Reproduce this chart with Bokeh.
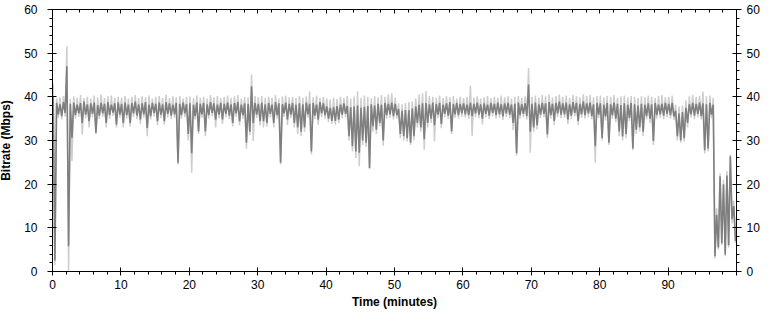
from bokeh.plotting import figure
from bokeh.models import LinearAxis, FixedTicker, Range1d
from bokeh.embed import file_html
from bokeh.resources import INLINE

# ---- data: per 0.5-minute bin (bin i starts at 0.5*i minutes) ----
bin_width = 0.5

dark_hi = [
    40.0, 38.6, 38.3, 38.8, 47.0, 38.4, 38.7, 38.2, 38.6, 38.9, 38.3, 38.5, 38.7, 38.1, 38.6, 38.4, 38.8, 38.2, 38.5, 38.7,
    38.4, 38.7, 38.2, 38.6, 38.9, 38.3, 38.5, 38.8, 38.2, 38.6, 38.4, 38.7, 38.3, 38.8, 38.5, 38.2, 38.6, 38.4, 38.7, 38.3,
    38.5, 38.2, 38.7, 38.4, 38.6, 38.3, 38.8, 38.5, 38.2, 38.6, 38.4, 38.7, 38.3, 38.6, 38.8, 38.2, 38.5, 38.4, 42.4, 38.6,
    38.4, 38.7, 38.3, 38.6, 38.2, 38.8, 38.5, 38.3, 38.7, 38.4, 38.6, 38.2, 38.5, 38.3, 38.7, 38.4, 38.6, 38.2, 38.8, 38.5,
    37.8, 37.5, 37.6, 37.9, 38.2, 38.5, 37.9, 37.6, 37.8, 38.0, 37.5, 37.7, 37.9, 38.3, 38.0, 38.4, 38.2, 38.6, 38.4, 38.7,
    38.4, 37.2, 36.8, 37.0, 36.9, 37.3, 37.8, 38.2, 38.5, 38.6, 38.3, 38.7, 38.4, 38.6, 38.2, 38.5, 38.8, 38.3, 38.6, 38.4,
    38.5, 38.2, 38.6, 38.4, 38.7, 38.3, 38.5, 38.2, 38.6, 38.4, 38.7, 38.3, 38.5, 38.6, 38.2, 38.4, 38.7, 38.3, 38.5, 42.8,
    38.4, 38.7, 38.3, 38.6, 38.5, 38.8, 38.4, 38.6, 38.9, 38.5, 38.7, 38.3, 38.8, 38.6, 38.4, 38.9, 38.5, 38.7, 38.3, 38.6,
    38.5, 38.2, 38.6, 38.3, 38.7, 38.4, 38.1, 38.5, 38.2, 38.6, 38.3, 38.0, 38.4, 38.2, 38.5, 38.3, 38.6, 38.2, 38.4, 38.6,
    38.4, 38.6, 36.8, 36.2, 36.5, 37.5, 38.3, 38.6, 38.4, 38.7, 38.5, 38.3, 38.6, 38.2, 13.0, 21.8, 20.0, 22.0, 26.4, 15.0,
]
dark_lo = [
    2.5, 36.0, 35.6, 36.3, 5.8, 30.6, 35.8, 36.2, 34.0, 35.9, 34.4, 36.1, 31.8, 35.7, 36.2, 34.0, 35.8, 36.4, 33.6, 35.9,
    34.0, 35.8, 34.0, 36.2, 35.7, 34.8, 36.0, 32.9, 35.6, 36.3, 34.4, 35.9, 34.4, 36.1, 35.7, 36.0, 24.9, 35.8, 36.2, 31.5,
    27.1, 35.6, 32.1, 36.0, 32.1, 35.8, 36.3, 34.8, 35.9, 34.8, 36.1, 35.7, 34.0, 36.2, 34.4, 35.8, 29.5, 32.0, 34.0, 35.9,
    34.4, 34.4, 34.0, 36.1, 34.0, 35.8, 24.9, 36.2, 34.8, 35.9, 34.0, 33.0, 32.0, 33.0, 36.0, 27.5, 35.7, 34.8, 36.2, 35.8,
    35.0, 34.5, 34.5, 34.8, 35.9, 36.1, 31.0, 28.7, 27.5, 27.2, 30.0, 29.5, 23.7, 33.3, 32.5, 34.0, 30.0, 35.8, 36.0, 35.6,
    35.8, 31.5, 31.0, 30.5, 29.5, 31.0, 34.0, 33.0, 30.3, 34.0, 35.0, 33.5, 35.9, 33.8, 36.1, 35.7, 32.1, 36.0, 35.8, 36.2,
    36.0, 35.8, 35.6, 36.2, 35.9, 35.0, 36.1, 35.7, 36.3, 35.8, 36.0, 35.5, 36.2, 35.9, 34.0, 27.1, 35.8, 36.1, 35.6, 32.0,
    33.0, 33.5, 35.9, 36.1, 31.4, 35.8, 34.5, 36.2, 35.9, 36.0, 34.8, 35.7, 36.3, 34.5, 36.0, 35.8, 36.2, 35.6, 28.7, 35.9,
    30.6, 35.5, 29.5, 35.8, 35.0, 32.1, 30.9, 31.5, 35.2, 28.2, 32.5, 33.0, 32.0, 35.6, 35.0, 29.9, 35.8, 36.0, 35.7, 36.1,
    35.8, 35.5, 31.0, 30.0, 30.5, 34.0, 36.0, 35.7, 36.1, 35.6, 27.8, 28.2, 35.9, 3.5, 5.5, 6.5, 3.9, 6.0, 12.0, 7.0,
]
light_hi = [
    43.0, 39.6, 39.9, 40.2, 51.6, 39.5, 40.1, 39.8, 40.4, 39.7, 40.0, 39.6, 40.3, 39.9, 40.5, 39.7, 40.1, 40.3, 39.8, 40.0,
    39.8, 40.2, 39.6, 40.0, 40.4, 39.7, 40.1, 39.9, 40.3, 39.6, 40.0, 40.2, 39.8, 40.5, 39.7, 40.1, 39.9, 40.2, 39.6, 40.0,
    40.1, 39.7, 40.3, 39.8, 40.0, 39.6, 40.4, 39.9, 40.2, 39.7, 40.0, 40.3, 39.8, 40.1, 40.4, 39.6, 40.0, 39.9, 45.1, 40.2,
    39.9, 40.2, 39.7, 40.0, 39.8, 40.4, 39.6, 40.1, 40.3, 39.9, 40.0, 39.7, 40.2, 39.8, 40.1, 41.2, 39.9, 40.3, 39.7, 40.0,
    39.6, 39.4, 39.8, 39.5, 40.0, 39.7, 40.2, 39.6, 40.1, 41.3, 39.8, 40.3, 40.0, 39.7, 40.2, 39.9, 40.4, 40.0, 40.6, 40.8,
    39.8, 38.5, 38.3, 38.6, 38.8, 39.0, 39.6, 40.5, 40.8, 41.3, 40.2, 40.0, 39.8, 40.3, 39.7, 40.1, 39.9, 40.2, 39.6, 40.0,
    39.7, 40.0, 42.6, 39.8, 40.1, 39.6, 39.9, 40.2, 39.7, 40.0, 39.8, 40.3, 39.9, 40.1, 39.6, 40.0, 40.2, 39.8, 40.1, 46.6,
    40.0, 40.3, 39.8, 40.4, 40.1, 40.6, 39.9, 40.2, 40.5, 40.0, 40.3, 39.8, 40.4, 40.1, 39.9, 40.6, 40.2, 40.4, 39.9, 40.2,
    40.3, 39.9, 40.2, 40.0, 40.4, 39.8, 40.1, 40.3, 39.9, 40.2, 40.0, 39.7, 40.1, 39.9, 40.3, 40.0, 39.8, 40.2, 40.4, 39.9,
    40.0, 40.3, 38.2, 37.8, 38.0, 39.2, 40.1, 40.4, 40.0, 40.2, 41.2, 40.1, 40.3, 39.8, 14.5, 22.5, 21.0, 23.0, 26.8, 16.2,
]
light_lo = [
    1.5, 35.2, 34.8, 35.5, 0.2, 25.3, 35.0, 35.4, 31.4, 35.1, 33.0, 35.3, 31.5, 34.9, 35.4, 33.0, 35.0, 35.6, 33.0, 35.2,
    33.0, 35.0, 33.2, 35.4, 34.9, 33.8, 35.2, 31.0, 34.8, 35.5, 33.5, 35.1, 33.6, 35.3, 34.9, 35.2, 24.5, 35.0, 35.4, 30.0,
    22.6, 34.8, 31.5, 35.2, 31.0, 35.0, 35.5, 33.0, 35.1, 33.8, 35.3, 34.9, 33.2, 35.4, 33.5, 35.0, 28.1, 31.2, 29.9, 35.1,
    33.4, 33.0, 33.2, 35.3, 33.0, 35.0, 24.5, 35.4, 33.5, 35.1, 33.0, 31.5, 31.0, 32.0, 35.2, 26.8, 34.9, 33.6, 35.4, 35.0,
    34.2, 33.8, 33.6, 34.0, 35.1, 35.3, 30.0, 27.5, 26.0, 24.1, 29.0, 28.5, 23.5, 32.0, 31.5, 33.2, 28.8, 35.0, 35.2, 34.8,
    35.0, 30.5, 30.0, 29.8, 29.0, 30.0, 33.0, 32.0, 27.9, 33.0, 34.0, 29.8, 35.1, 32.8, 35.3, 34.9, 31.5, 35.2, 35.0, 35.4,
    35.3, 35.0, 31.0, 35.4, 35.1, 33.7, 35.3, 34.9, 35.5, 35.0, 35.2, 34.7, 35.4, 35.1, 32.4, 26.5, 35.0, 35.3, 34.8, 27.2,
    32.0, 32.5, 35.1, 35.3, 30.5, 35.0, 33.5, 35.4, 35.1, 35.2, 33.8, 34.9, 35.5, 33.5, 35.2, 35.0, 35.4, 34.8, 24.9, 35.1,
    30.0, 34.6, 29.0, 35.0, 34.2, 31.0, 30.0, 30.5, 34.4, 27.8, 31.5, 32.0, 31.0, 34.8, 34.0, 29.0, 35.0, 35.2, 34.9, 35.3,
    35.0, 34.7, 30.0, 29.5, 29.8, 33.0, 35.2, 34.9, 35.3, 34.8, 27.0, 27.5, 35.1, 3.0, 5.0, 6.0, 3.5, 5.5, 11.0, 6.5,
]

x_ticks = [0, 10, 20, 30, 40, 50, 60, 70, 80, 90, 100]
y_ticks = [0, 10, 20, 30, 40, 50, 60]


def zigzag(hi, lo):
    xs, ys = [], []
    for i, (h, l) in enumerate(zip(hi, lo)):
        t = i * bin_width
        xs += [t + 0.1, t + 0.35]
        ys += [h, l]
    return xs, ys


lx, ly = zigzag(light_hi, light_lo)
dx, dy = zigzag(dark_hi, dark_lo)

p = figure(width=769, height=318, output_backend="svg", toolbar_location=None,
           x_range=Range1d(0, 100), y_range=Range1d(0, 60),
           x_axis_location=None, y_axis_location=None,
           min_border_left=50, min_border_right=29, min_border_top=8, min_border_bottom=48)
p.styles = {"margin-left": "-4px", "margin-top": "1px"}
p.xgrid.visible = False
p.ygrid.visible = False
p.outline_line_color = None
p.background_fill_color = "white"
p.border_fill_color = "white"

p.line(lx, ly, line_color="#cdcdcd", line_width=1.5)
p.line(dx, dy, line_color="#7f7f7f", line_width=1.6)

FONT = "Liberation Sans"

xt = FixedTicker(ticks=x_ticks, minor_ticks=list(range(0, 101, 2)))
yt = FixedTicker(ticks=y_ticks, minor_ticks=list(range(0, 61, 2)))


def style(ax):
    ax.axis_line_color = "black"
    ax.major_tick_line_color = "black"
    ax.minor_tick_line_color = "black"
    ax.major_label_text_font = FONT
    ax.major_label_text_font_size = "12px"
    ax.major_label_text_color = "black"
    ax.axis_label_text_font = FONT
    ax.axis_label_text_font_size = "12px"
    ax.axis_label_text_font_style = "bold"
    ax.axis_label_text_color = "black"


left = LinearAxis(ticker=yt, axis_label="Bitrate (Mbps)")
style(left)
left.major_tick_in = 4
left.major_tick_out = 5
left.minor_tick_in = 0
left.minor_tick_out = 3
left.major_label_standoff = 10
left.axis_label_standoff = 8
p.add_layout(left, "left")

right = LinearAxis(ticker=yt)
style(right)
right.major_tick_in = 4
right.major_tick_out = 5
right.minor_tick_in = 0
right.minor_tick_out = 3
right.major_label_standoff = 5
p.add_layout(right, "right")

bottom = LinearAxis(ticker=xt, axis_label="Time (minutes)")
style(bottom)
bottom.major_tick_in = 4
bottom.major_tick_out = 4
bottom.minor_tick_in = 0
bottom.minor_tick_out = 3
bottom.major_label_standoff = 4
bottom.axis_label_standoff = 3
bottom.major_label_overrides = {100: ""}
p.add_layout(bottom, "below")

top = LinearAxis(ticker=xt)
style(top)
top.major_tick_in = 4
top.major_tick_out = 0
top.minor_tick_in = 3
top.minor_tick_out = 0
top.major_label_standoff = 0
top.major_label_text_font_size = "1px"
top.major_label_overrides = {t: "" for t in x_ticks}
p.add_layout(top, "above")

open("out.html", "w").write(file_html(p, INLINE))
